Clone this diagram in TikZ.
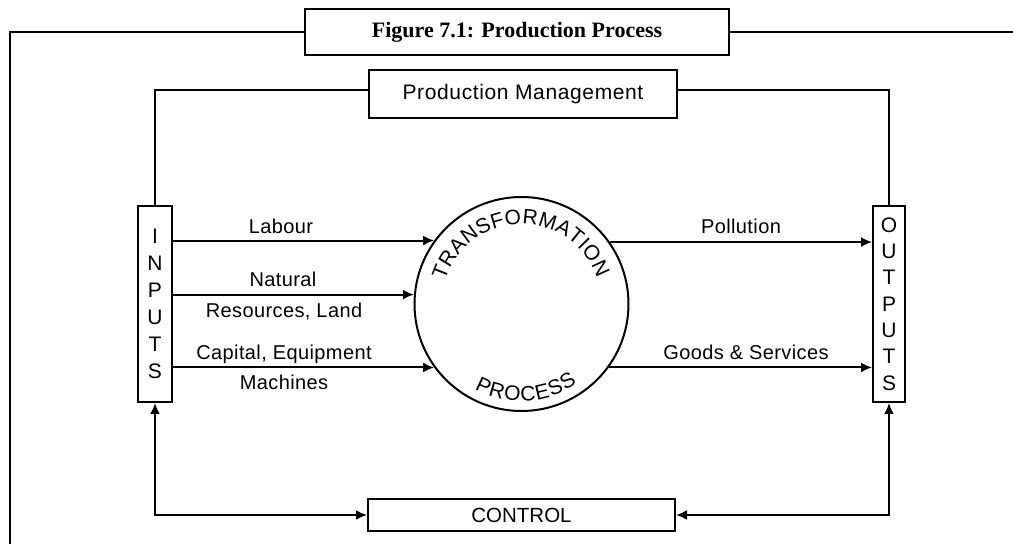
\documentclass[tikz,border=0pt]{standalone}
\usepackage{fontspec}
\usetikzlibrary{arrows.meta,decorations.text}
\newfontfamily\labfont[LetterSpace=2]{Liberation Sans}
\newfontfamily\pmfont[LetterSpace=3]{Liberation Sans}
\newfontfamily\plainsans{Liberation Sans}
\newfontfamily\titlefont{Liberation Serif}
\begin{document}
\begin{tikzpicture}[x=1pt,y=1pt,
  box/.style={draw, line width=2pt, inner sep=0pt},
  lbl/.style={font=\labfont\fontsize{20}{22}\selectfont, anchor=base, inner sep=0pt},
  ln/.style={line width=2pt},
  arr/.style={line width=2pt, -{Latex[length=11pt,width=10pt]}},
  darr/.style={line width=2pt, {Latex[length=11pt,width=10pt]}-{Latex[length=11pt,width=10pt]}},
  frameline/.style={line width=2.8pt}]
\useasboundingbox (0,0) rectangle (1013,544);
% title and outer frame
\node[box, line width=2.4pt, minimum width=424pt, minimum height=46pt,
      font=\titlefont\bfseries\fontsize{22}{26}\selectfont] (title) at (517,512) {Figure 7.1: Production Process};
\coordinate (fl) at (10,0);
\coordinate (fr) at (1013,512);
\draw[frameline] (fl) |- (title.west);
\draw[frameline] (title.east) -- (fr);
% boxes
\node[box, minimum width=308pt, minimum height=48pt,
      font=\pmfont\fontsize{21}{24}\selectfont] (pm) at (523,450) {Production Management};
\node[box, minimum width=34pt, minimum height=196pt, align=center,
      font=\plainsans\fontsize{21}{27}\selectfont] (inputs) at (155,240) {I\\N\\P\\U\\T\\S};
\node[box, minimum width=32pt, minimum height=196pt, align=center,
      font=\plainsans\fontsize{21}{26.3}\selectfont] (outputs) at (889,240) {O\\U\\T\\P\\U\\T\\S};
\node[box, circle, minimum size=214pt] (tp) at (521.5,240) {};
\node[box, minimum width=307pt, minimum height=32pt,
      font=\plainsans\fontsize{20.5}{24}\selectfont] (control) at (521.5,29) {CONTROL};
% circle text
\path[decorate, decoration={text along path,
   text={|\plainsans\fontsize{21}{21}\selectfont|TRANSFORMATION}, text align={fit to path}}]
   ([shift={(163:80)}]tp.center) arc[start angle=163, end angle=19, radius=80];
\path[decorate, decoration={text along path,
   text={|\plainsans\fontsize{21}{21}\selectfont|PROCESS}, text align={fit to path}}]
   ([shift={(-119:97)}]tp.center) arc[start angle=-119, end angle=-55, radius=97];
% connectors
\draw[ln] (inputs.north) |- ([yshift=4pt]pm.west);
\draw[ln] (outputs.north) |- ([yshift=4pt]pm.east);
\draw[arr] (tp.144.4 -| inputs.east) -- (tp.144.4);
\draw[arr] (tp.175.7 -| inputs.east) -- (tp.175.7);
\draw[arr] (tp.216.5 -| inputs.east) -- (tp.216.5);
\draw[arr] (tp.35.6) -- (tp.35.6 -| outputs.west);
\draw[arr] (tp.-36.1) -- (tp.-36.1 -| outputs.west);
\draw[darr] (inputs.south) |- (control.west);
\draw[darr] (outputs.south) |- (control.east);
% labels
\node[lbl] (lLabour) at (281,310) {Labour};
\node[lbl] (lNatural) at (283,257) {Natural};
\node[lbl] (lResources) at (284,226) {Resources, Land};
\node[lbl] (lCapital) at (284,184) {Capital, Equipment};
\node[lbl] (lMachines) at (284,154) {Machines};
\node[lbl] (lPollution) at (741,310) {Pollution};
\node[lbl] (lGoods) at (746,184) {Goods \& Services};
\end{tikzpicture}
\end{document}
